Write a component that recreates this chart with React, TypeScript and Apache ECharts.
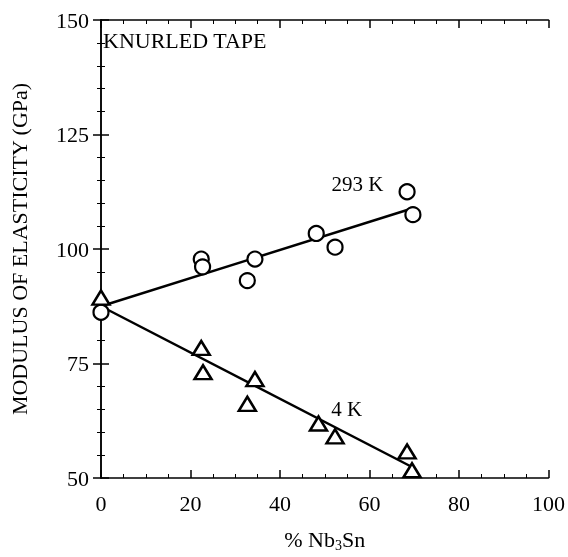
import React, { useEffect, useRef } from "react";
import * as echarts from "echarts";

const xTicks = [0, 20, 40, 60, 80, 100];
const yTicks = [50, 75, 100, 125, 150];

const nb3snRT = [0, 22.4, 22.7, 32.7, 34.4, 48.1, 52.3, 68.4, 69.7];
const modulusRT = [86.2, 97.8, 96.1, 93.1, 97.8, 103.4, 100.4, 112.5, 107.5];

const nb3sn4K = [0, 22.4, 22.8, 32.7, 34.4, 48.6, 52.3, 68.4, 69.5];
const modulus4K = [89.4, 78.4, 73.1, 66.2, 71.6, 61.9, 59.1, 55.8, 51.7];

const fitRTx = [0, 69.3];
const fitRTy = [87.5, 108.8];
const fit4Kx = [0, 69.5];
const fit4Ky = [87.5, 52.4];

const labelRT = { text: "293 K", x: 57.3, y: 114.2 };
const label4K = { text: "4 K", x: 54.9, y: 65.1 };

const FONT = "Liberation Serif";

export default function App() {
  const ref = useRef<HTMLDivElement>(null);
  useEffect(() => {
    if (!ref.current) return;
    const chart = echarts.init(ref.current, null, { renderer: "svg" });
    const axisLine = { show: true, lineStyle: { color: "#000", width: 1.5 } };
    const axisTick = { show: true, inside: true, length: 8, lineStyle: { color: "#000", width: 1.5 } };
    const minorTick = { show: true, length: 4, lineStyle: { color: "#000", width: 1 } };
    const xBase = {
      type: "value",
      min: xTicks[0],
      max: xTicks[xTicks.length - 1],
      interval: 20,
      axisLine,
      axisTick,
      splitLine: { show: false },
    };
    const yBase = {
      type: "value",
      min: yTicks[0],
      max: yTicks[yTicks.length - 1],
      interval: 25,
      axisLine,
      axisTick,
      splitLine: { show: false },
    };
    const txt = (size: number) => ({ color: "#000", fontFamily: FONT, fontSize: size });
    chart.setOption({
      animation: false,
      grid: { left: 92, right: 17, top: 20, bottom: 72 },
      xAxis: [
        {
          ...xBase,
          position: "bottom",
          minorTick: { ...minorTick, splitNumber: 4 },
          axisLabel: { ...txt(22), margin: 14 },
          name: "{a|% Nb}{s|3}{a|Sn}",
          nameLocation: "middle",
          nameGap: 48,
          nameTextStyle: {
            ...txt(22),
            rich: {
              a: txt(22),
              s: { ...txt(14), verticalAlign: "bottom", padding: [12, 0, 0, 0] },
            },
          },
        },
        {
          ...xBase,
          position: "top",
          minorTick: { ...minorTick, splitNumber: 4 },
          axisLabel: { show: false },
        },
      ],
      yAxis: [
        {
          ...yBase,
          position: "left",
          minorTick: { ...minorTick, splitNumber: 5 },
          axisLabel: { ...txt(22), margin: 12 },
          name: "MODULUS OF ELASTICITY (GPa)",
          nameLocation: "middle",
          nameGap: 71,
          nameTextStyle: txt(22),
        },
        {
          ...yBase,
          position: "right",
          minorTick: { ...minorTick, splitNumber: 5 },
          axisLabel: { show: false },
        },
      ],
      series: [
        {
          type: "line",
          data: fitRTx.map((x, i) => [x, fitRTy[i]]),
          showSymbol: false,
          symbol: "none",
          lineStyle: { color: "#000", width: 2.5 },
          z: 2,
          markPoint: {
            symbol: "circle",
            symbolSize: 0,
            data: [{ coord: [labelRT.x, labelRT.y] }],
            label: { show: true, position: "inside", formatter: labelRT.text, ...txt(21) },
          },
        },
        {
          type: "line",
          data: fit4Kx.map((x, i) => [x, fit4Ky[i]]),
          showSymbol: false,
          symbol: "none",
          lineStyle: { color: "#000", width: 2.5 },
          z: 2,
          markPoint: {
            symbol: "circle",
            symbolSize: 0,
            data: [{ coord: [label4K.x, label4K.y] }],
            label: { show: true, position: "inside", formatter: label4K.text, ...txt(21) },
          },
        },
        {
          type: "scatter",
          data: nb3snRT.map((x, i) => [x, modulusRT[i]]),
          symbol: "circle",
          symbolSize: 15,
          itemStyle: { color: "#fff", borderColor: "#000", borderWidth: 2.2, opacity: 1 },
          z: 3,
        },
        {
          type: "scatter",
          data: nb3sn4K.map((x, i) => [x, modulus4K[i]]),
          symbol: "triangle",
          symbolSize: [17, 14],
          itemStyle: { color: "#fff", borderColor: "#000", borderWidth: 2.5, opacity: 1 },
          z: 3,
        },
      ],
      graphic: [
        {
          type: "text",
          left: 103,
          top: 29,
          style: { text: "KNURLED TAPE", fill: "#000", fontFamily: FONT, fontSize: 22 },
        },
      ],
    });
    return () => chart.dispose();
  }, []);
  return (
    <div
      ref={ref}
      style={{ position: "fixed", left: 0, top: 0, width: 568, height: 557 }}
    />
  );
}
